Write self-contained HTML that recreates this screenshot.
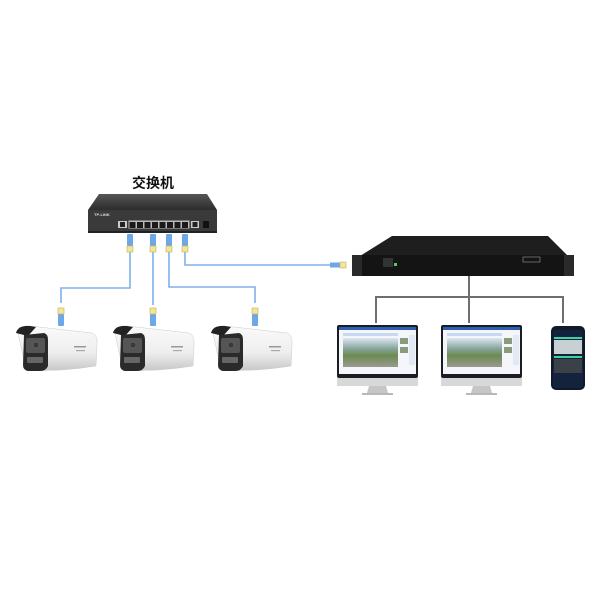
<!DOCTYPE html>
<html><head><meta charset="utf-8"><style>
html,body{margin:0;padding:0;background:#fff;width:600px;height:600px;overflow:hidden}
svg{display:block}
</style></head><body>
<svg width="600" height="600" viewBox="0 0 600 600" xmlns="http://www.w3.org/2000/svg">
<defs>
<linearGradient id="cam" x1="0" y1="0" x2="0" y2="1"><stop offset="0" stop-color="#fafafa"/><stop offset="0.6" stop-color="#eee"/><stop offset="1" stop-color="#c8c8c8"/></linearGradient>
<linearGradient id="swtop" x1="0" y1="0" x2="0" y2="1"><stop offset="0" stop-color="#555"/><stop offset="1" stop-color="#2c2c2c"/></linearGradient>
<linearGradient id="scr" x1="0" y1="0" x2="0" y2="1"><stop offset="0" stop-color="#dfe8f3"/><stop offset="0.35" stop-color="#8aa8a0"/><stop offset="0.6" stop-color="#6b8a52"/><stop offset="1" stop-color="#9a9a90"/></linearGradient>
<g id="camera">
  <path d="M18,333 Q20,326 30,326 L92,333 Q98,335 97,345 L96,366 Q60,372 26,370 Z" fill="url(#cam)" stroke="#ccc" stroke-width="0.5"/>
  <path d="M16,333 Q18,325 30,326 L36,327 L28,336 Z" fill="#222"/>
  <path d="M24,335 L44,333 Q48,334 48,340 L48,366 Q46,371 40,371 L28,371 Q23,370 23,365 Z" fill="#2a2a2a"/>
  <rect x="26" y="338" width="19" height="15" rx="2" fill="#555"/>
  <circle cx="36" cy="345" r="3" fill="#3a3a3a" stroke="#777" stroke-width="0.5"/>
  <rect x="27" y="357" width="16" height="6" rx="1" fill="#666"/>
  <rect x="74" y="346" width="12" height="1.5" fill="#999"/>
  <rect x="76" y="350" width="9" height="1.2" fill="#aaa"/>
</g>
<g id="rj">
  <rect x="-3" y="0" width="6" height="12" rx="1" fill="#6fa6e6"/>
  <rect x="-3" y="12" width="6" height="6" fill="#f0e6a0" stroke="#c9b24a" stroke-width="0.6"/>
</g>
<g id="mon">
  <rect x="0" y="0" width="81" height="53" rx="2" fill="#1b1d22"/>
  <rect x="2" y="2" width="77" height="47" fill="#f4f6fa"/>
  <rect x="2" y="2" width="77" height="3" fill="#2d5fb0"/>
  <rect x="6" y="8" width="55" height="3" fill="#c9d8ee"/>
  <rect x="6" y="13" width="55" height="29" fill="url(#scr)"/>
  <rect x="63" y="13" width="8" height="6" fill="#8b9a7c"/>
  <rect x="63" y="22" width="8" height="6" fill="#8b9a7c"/>
  <rect x="72" y="10" width="6" height="30" fill="#e3e9f3"/>
  <rect x="0" y="53" width="81" height="8" fill="#d8d8d8"/>
  <path d="M32,61 L49,61 L51,68 L30,68 Z" fill="#c6c6c6"/>
  <rect x="25" y="68" width="31" height="2" fill="#b8b8b8"/>
</g>
</defs>

<text x="153" y="188" text-anchor="middle" font-family="Liberation Sans, Noto Sans CJK SC, sans-serif" font-size="14" font-weight="bold" fill="#111">交换机</text>

<!-- switch -->
<path d="M99,194 L207,194 L217,210 L88,210 Z" fill="url(#swtop)"/>
<rect x="88" y="210" width="129" height="22" fill="#3a3a3a"/>
<rect x="88" y="231" width="129" height="2" fill="#222"/>
<text x="94" y="216" font-family="Liberation Sans, sans-serif" font-size="4" font-weight="bold" fill="#ddd">TP-LINK</text>
<rect x="118" y="221" width="9" height="7" fill="#ccc"/><rect x="120" y="222" width="5" height="5" fill="#222"/>
<rect x="128.5" y="220.5" width="61" height="8" fill="#bbb"/>
<g fill="#1a1a1a">
<rect x="129.5" y="222" width="6" height="6"/><rect x="137" y="222" width="6" height="6"/><rect x="144.5" y="222" width="6" height="6"/><rect x="152" y="222" width="6" height="6"/>
<rect x="159.5" y="222" width="6" height="6"/><rect x="167" y="222" width="6" height="6"/><rect x="174.5" y="222" width="6" height="6"/><rect x="182" y="222" width="6" height="6"/>
</g>
<rect x="191" y="221" width="8" height="7" fill="#ccc"/><rect x="192.5" y="222" width="5" height="5" fill="#222"/>
<rect x="203" y="221" width="6" height="7" fill="#111"/>

<!-- cables -->
<g fill="none" stroke="#7fb0ea" stroke-width="1.6">
<polyline points="130,245 130,288 61,288 61,303"/>
<polyline points="153,245 153,305"/>
<polyline points="169,245 169,287 255,287 255,303"/>
<polyline points="185,245 185,265 331,265"/>
</g>
<use href="#rj" x="130" y="234"/>
<use href="#rj" x="153" y="234"/>
<use href="#rj" x="169" y="234"/>
<use href="#rj" x="185" y="234"/>
<use href="#rj" transform="translate(61,326) scale(1,-1)"/>
<use href="#rj" transform="translate(153,326) scale(1,-1)"/>
<use href="#rj" transform="translate(255,326) scale(1,-1)"/>
<g transform="translate(330,265)"><rect x="0" y="-2.5" width="10" height="5" fill="#6fa6e6"/><rect x="10" y="-3" width="6" height="6" fill="#f0e6a0" stroke="#c9b24a" stroke-width="0.6"/></g>

<use href="#camera"/>
<use href="#camera" x="97"/>
<use href="#camera" x="195"/>

<!-- server -->
<path d="M392,236 L548,236 L568,256 L360,256 Z" fill="#1e1e1e"/>
<rect x="352" y="255" width="222" height="21" fill="#141414"/>
<rect x="352" y="255" width="10" height="21" fill="#2a2a2a"/>
<rect x="564" y="255" width="10" height="21" fill="#2a2a2a"/>
<rect x="383" y="258" width="10" height="9" fill="#333"/>
<rect x="394" y="263" width="3" height="3" fill="#5c5"/>
<rect x="523" y="257" width="17" height="5" fill="none" stroke="#999" stroke-width="0.6"/>

<g fill="none" stroke="#6e6e6e" stroke-width="2">
<polyline points="469,276 469,297"/>
<polyline points="376,323 376,297 563,297 563,323"/>
<polyline points="469,297 469,323"/>
</g>

<use href="#mon" x="337" y="325"/>
<use href="#mon" x="441" y="325"/>

<!-- phone -->
<rect x="551" y="326" width="34" height="64" rx="5" fill="#111a2a"/>
<rect x="553" y="330" width="30" height="58" rx="3" fill="#14233d"/>
<rect x="554" y="337" width="28" height="2" fill="#3fd1a0"/>
<rect x="554" y="340" width="28" height="14" fill="#c9d0d4"/>
<rect x="554" y="356" width="28" height="2" fill="#3fd1a0"/>
<rect x="554" y="359" width="28" height="14" fill="#3a4248"/>
</svg>
</body></html>
